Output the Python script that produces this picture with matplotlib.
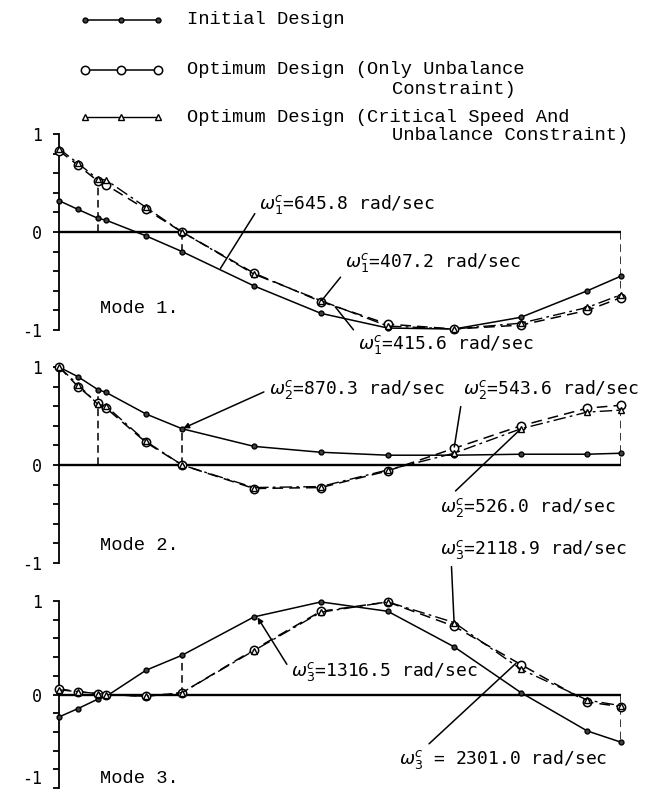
import matplotlib
matplotlib.use("Agg")
import matplotlib.pyplot as plt
import numpy as np

# axial stations along the shaft (normalised length) and bearing stations
stations = [0.0, 0.034, 0.069, 0.084, 0.155, 0.219, 0.347, 0.466, 0.585, 0.703, 0.822, 0.940, 1.0]
bearings = [0.069, 0.219, 1.0]

# mode shapes: initial design, optimum (only unbalance), optimum (critical speed + unbalance)
mode1_initial = [0.32, 0.23, 0.14, 0.12, -0.04, -0.20, -0.55, -0.83, -0.98, -0.99, -0.87, -0.60, -0.45]
mode1_unbal = [0.83, 0.68, 0.52, 0.48, 0.23, 0.00, -0.42, -0.71, -0.94, -0.99, -0.95, -0.80, -0.67]
mode1_crit = [0.85, 0.70, 0.54, 0.53, 0.25, 0.00, -0.43, -0.70, -0.96, -0.99, -0.93, -0.77, -0.64]

mode2_initial = [1.00, 0.90, 0.77, 0.74, 0.52, 0.37, 0.19, 0.13, 0.10, 0.10, 0.11, 0.11, 0.12]
mode2_unbal = [1.00, 0.80, 0.63, 0.58, 0.23, 0.00, -0.24, -0.23, -0.06, 0.17, 0.40, 0.58, 0.61]
mode2_crit = [1.00, 0.82, 0.62, 0.60, 0.24, 0.00, -0.23, -0.22, -0.05, 0.12, 0.37, 0.54, 0.56]

mode3_initial = [-0.24, -0.15, -0.05, -0.02, 0.26, 0.42, 0.83, 0.99, 0.89, 0.51, 0.02, -0.39, -0.51]
mode3_unbal = [0.06, 0.03, 0.01, 0.00, -0.02, 0.02, 0.48, 0.89, 0.99, 0.73, 0.32, -0.08, -0.13]
mode3_crit = [0.05, 0.03, 0.01, 0.00, -0.02, 0.02, 0.47, 0.88, 0.99, 0.77, 0.27, -0.06, -0.12]

# critical speeds (rad/sec)
mode1_speeds = ["645.8", "407.2", "415.6"]
mode2_speeds = ["870.3", "543.6", "526.0"]
mode3_speeds = ["1316.5", "2118.9", "2301.0"]

legend_labels = ["Initial Design",
                 "Optimum Design (Only Unbalance",
                 "Optimum Design (Critical Speed And"]
legend_cont = ["", "Constraint)", "Unbalance Constraint)"]

mono = "Liberation Mono"
amono = "DejaVu Sans Mono"

styles = [
    dict(color="black", lw=1.1, ls="-", marker="o", ms=3.5, mfc="0.25", mec="black"),
    dict(color="black", lw=1.1, ls=(0, (7, 4)), marker="o", ms=6, mfc="white", mec="black", mew=1.1),
    dict(color="black", lw=1.0, ls=(0, (9, 3, 2, 3)), marker="^", ms=4.5, mfc="white", mec="black"),
]

fig = plt.figure(figsize=(6.53, 7.96), dpi=100)

left = 59 / 653
width = 562 / 653
panels = [(134, 330), (367, 563), (601, 788)]

modes = [
    (mode1_initial, mode1_unbal, mode1_crit),
    (mode2_initial, mode2_unbal, mode2_crit),
    (mode3_initial, mode3_unbal, mode3_crit),
]
speeds = [mode1_speeds, mode2_speeds, mode3_speeds]

# annotation layout: (which series, station of arrow tip, text x, text y, relpos, arrow)
ann_layout = [
    [(0, 0.286, 0.356, 0.28, (0.0, 0.4), "-"),
     (1, 0.466, 0.509, -0.31, (0.0, 0.1), "-"),
     (2, 0.49, 0.532, -1.15, (0.0, 0.9), "-")],
    [(0, 0.219, 0.374, 0.77, (0.0, 0.5), "-|>"),
     (1, 0.703, 0.719, 0.77, (0.0, 0.4), "-"),
     (2, 0.822, 0.678, -0.43, (0.06, 1.0), "-")],
    [(0, 0.352, 0.413, 0.25, (0.0, 0.5), "-|>"),
     (2, 0.703, 0.678, 1.55, (0.06, 0.0), "-"),
     (1, 0.815, 0.605, -0.70, (0.12, 1.0), "-")],
]
subs = ["1", "2", "3"]

for i, (top, bot) in enumerate(panels):
    ax = fig.add_axes([left, 1 - bot / 796, width, (bot - top) / 796])
    ax.set_xlim(0, 1)
    ax.set_ylim(-1, 1)
    ax.patch.set_alpha(0)
    for side in ["top", "right", "bottom"]:
        ax.spines[side].set_visible(False)
    ax.spines["left"].set_linewidth(1.3)
    ax.set_xticks([])
    ax.set_yticks([-1, 0, 1])
    ax.set_yticklabels(["-1", "0", "1"], fontfamily=amono)
    ax.set_yticks(np.arange(-0.8, 0.81, 0.2), minor=True)
    ax.tick_params(axis="y", which="both", direction="out", length=4.5, width=1.3,
                   pad=8, labelsize=12)
    if i == 2:
        ax.get_yticklabels()[0].set_va("bottom")
    ax.axhline(0, xmin=0, xmax=1, color="black", lw=1.7, zorder=1)

    series = modes[i]
    for data, st in zip(series, styles):
        ax.plot(stations, data, clip_on=False, zorder=3, **st)

    # dashed verticals at bearing stations
    arr = np.array(series)
    for b in bearings:
        col = arr[:, stations.index(b)]
        ext = col[np.argmax(np.abs(col))]
        ax.vlines(b, 0, ext, colors="black", linestyles=(0, (5, 3)), lw=1.1, zorder=2)

    for (k, xs, tx, ty, rp, st), sp in zip(ann_layout[i], speeds[i]):
        yv = np.interp(xs, stations, series[k])
        if i == 2 and sp == "2301.0":
            label = r"$\omega_%s^c$ = %s rad/sec" % (subs[i], sp)
        else:
            label = r"$\omega_%s^c$=%s rad/sec" % (subs[i], sp)
        ax.annotate(label, xy=(xs, yv), xytext=(tx, ty), fontsize=13, fontfamily=amono,
                    ha="left", va="center", annotation_clip=False,
                    arrowprops=dict(arrowstyle=st, color="black", lw=1.1, relpos=rp,
                                    shrinkA=2, shrinkB=1, mutation_scale=8))

    mode_y = [-0.78, -0.82, -0.90][i]
    ax.text(0.073, mode_y, "Mode %d." % (i + 1), fontsize=13.5, fontfamily=mono,
            ha="left", va="center")

# legend drawn in pixel coordinates
lax = fig.add_axes([0, 0, 1, 1])
lax.set_xlim(0, 653)
lax.set_ylim(796, 0)
lax.axis("off")
rows = [20, 70, 117]
for y, st, lab, cont in zip(rows, styles, legend_labels, legend_cont):
    s = dict(st)
    s["ls"] = "-"
    lax.plot([85, 121, 158], [y, y, y], **s)
    lax.text(187, y, lab, fontsize=13.5, fontfamily=mono, ha="left", va="center")
    if cont:
        lax.text(392, y + 19, cont, fontsize=13.5, fontfamily=mono, ha="left", va="center")

fig.savefig("out.png", dpi=100)
